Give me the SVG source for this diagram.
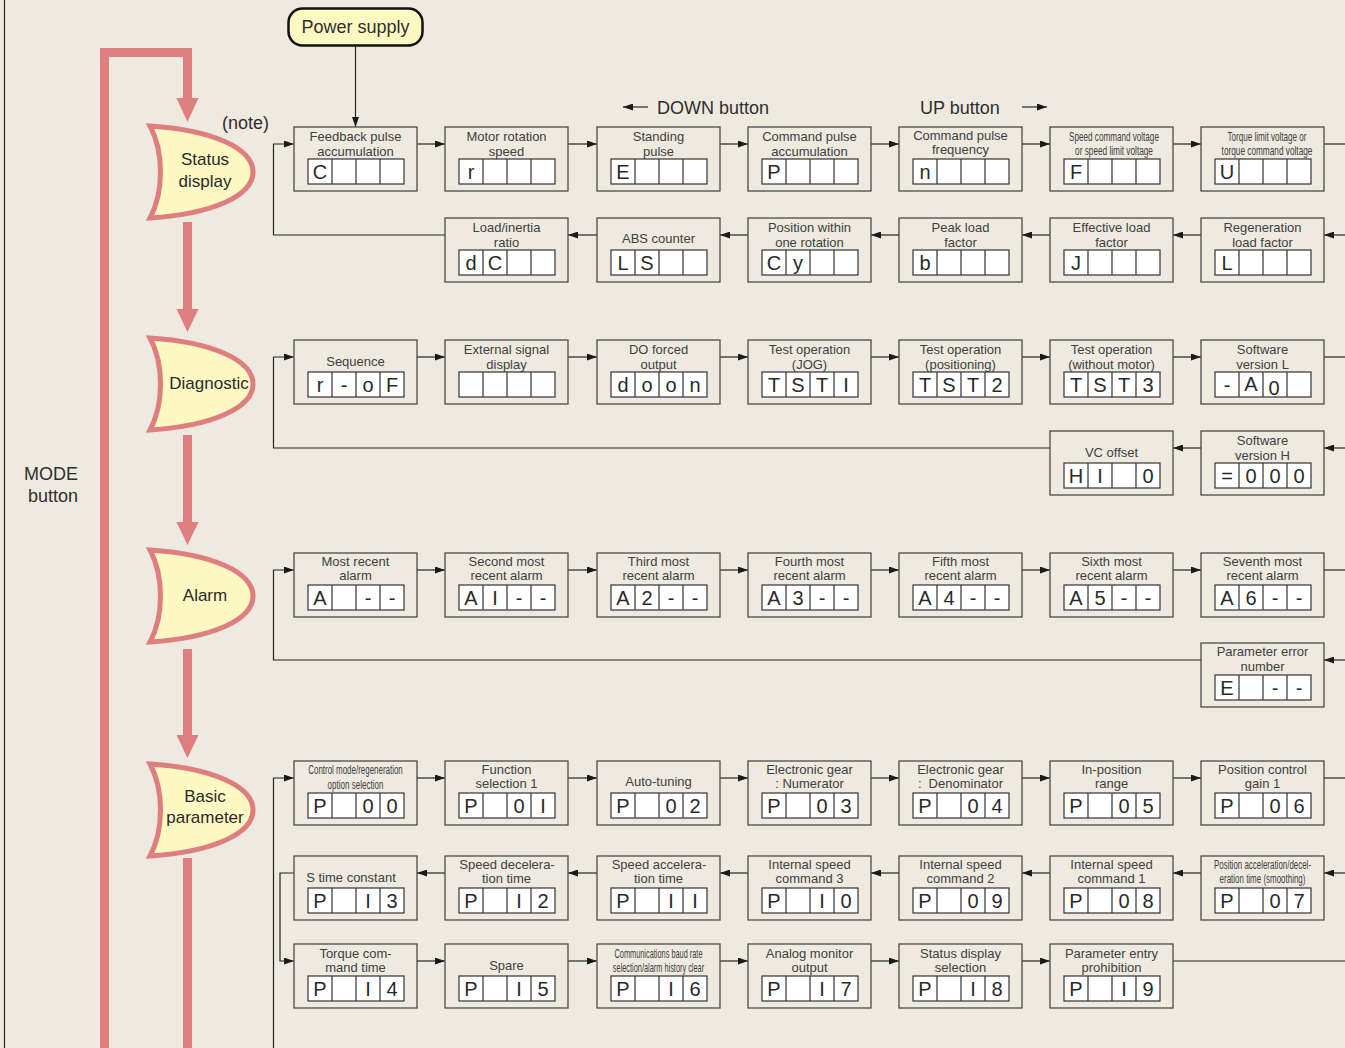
<svg xmlns="http://www.w3.org/2000/svg" xmlns:xlink="http://www.w3.org/1999/xlink" width="1345" height="1048" viewBox="0 0 1345 1048">
<style>
.box{fill:none;stroke:#4a4a4a;stroke-width:1.3}
.t{font-family:"Liberation Sans",Arial,sans-serif;font-size:13px;fill:#404040;text-anchor:middle}
.tn{font-family:"Liberation Sans",Arial,sans-serif;font-size:12.5px;fill:#404040;text-anchor:middle}
.c{font-family:"Liberation Sans",Arial,sans-serif;font-size:20px;fill:#2a2a2a;text-anchor:middle}
.m{font-family:"Liberation Sans",Arial,sans-serif;font-size:17px;fill:#2a2a2a;text-anchor:middle}
.lbl{font-family:"Liberation Sans",Arial,sans-serif;font-size:18px;fill:#2e2e2e}
.conn{fill:none;stroke:#222;stroke-width:1.2}
.pink{fill:none;stroke:#DF7E7F;stroke-width:9}
.ph{fill:#DF7E7F}
.moon{fill:#FEF8C3;stroke:#DF7E7F;stroke-width:5;stroke-miterlimit:12}
</style>
<defs>
<marker id="ah" viewBox="0 0 10 7" refX="10" refY="3.5" markerWidth="10" markerHeight="7" markerUnits="userSpaceOnUse" orient="auto"><path d="M0,0 L10,3.5 L0,7 z" fill="#1a1a1a"/></marker>
<g id="cells"><rect x="0" y="0" width="96" height="25" fill="#fff" stroke="#333" stroke-width="1.2"/><path d="M24,0v25M48,0v25M72,0v25" stroke="#333" stroke-width="1.2"/></g>
<path id="moon" d="M0,0 C62,4 103,22 103,46 C103,70 62,88 0,92 C14,66 14,26 0,0 Z"/>
</defs>
<rect width="1345" height="1048" fill="#EEEAE0"/>
<line x1="4.5" y1="0" x2="4.5" y2="1048" stroke="#222" stroke-width="1.2"/>

<g id="connectors">
<path class="pink" d="M187.5,99 V52.5 H104.5 V1048"/>
<polygon class="ph" points="176.5,98 198.5,98 187.5,122"/>
<line class="pink" x1="187.5" y1="222" x2="187.5" y2="310"/>
<polygon class="ph" points="176.5,309 198.5,309 187.5,332"/>
<line class="pink" x1="187.5" y1="435" x2="187.5" y2="523"/>
<polygon class="ph" points="176.5,522 198.5,522 187.5,545"/>
<line class="pink" x1="187.5" y1="649" x2="187.5" y2="736"/>
<polygon class="ph" points="176.5,735 198.5,735 187.5,758"/>
<line class="pink" x1="187.5" y1="858" x2="187.5" y2="1048"/>
<line class="conn" x1="355.5" y1="47" x2="355.5" y2="127" marker-end="url(#ah)"/>
<line class="conn" x1="648" y1="107" x2="623" y2="107" stroke-width="1.5" marker-end="url(#ah)"/>
<line class="conn" x1="1022" y1="107" x2="1047" y2="107" stroke-width="1.5" marker-end="url(#ah)"/>
<line class="conn" x1="417" y1="144" x2="445" y2="144" marker-end="url(#ah)"/>
<line class="conn" x1="568" y1="144" x2="597" y2="144" marker-end="url(#ah)"/>
<line class="conn" x1="720" y1="144" x2="748" y2="144" marker-end="url(#ah)"/>
<line class="conn" x1="871" y1="144" x2="899" y2="144" marker-end="url(#ah)"/>
<line class="conn" x1="1022" y1="144" x2="1050" y2="144" marker-end="url(#ah)"/>
<line class="conn" x1="1173" y1="144" x2="1201" y2="144" marker-end="url(#ah)"/>
<line class="conn" x1="1324" y1="144" x2="1345" y2="144"/>
<path class="conn" d="M445,235 H273.5 V144 H294" marker-end="url(#ah)"/>
<line class="conn" x1="1345" y1="235" x2="1324" y2="235" marker-end="url(#ah)"/>
<line class="conn" x1="1201" y1="235" x2="1173" y2="235" marker-end="url(#ah)"/>
<line class="conn" x1="1050" y1="235" x2="1022" y2="235" marker-end="url(#ah)"/>
<line class="conn" x1="899" y1="235" x2="871" y2="235" marker-end="url(#ah)"/>
<line class="conn" x1="748" y1="235" x2="720" y2="235" marker-end="url(#ah)"/>
<line class="conn" x1="597" y1="235" x2="568" y2="235" marker-end="url(#ah)"/>
<line class="conn" x1="417" y1="357" x2="445" y2="357" marker-end="url(#ah)"/>
<line class="conn" x1="568" y1="357" x2="597" y2="357" marker-end="url(#ah)"/>
<line class="conn" x1="720" y1="357" x2="748" y2="357" marker-end="url(#ah)"/>
<line class="conn" x1="871" y1="357" x2="899" y2="357" marker-end="url(#ah)"/>
<line class="conn" x1="1022" y1="357" x2="1050" y2="357" marker-end="url(#ah)"/>
<line class="conn" x1="1173" y1="357" x2="1201" y2="357" marker-end="url(#ah)"/>
<line class="conn" x1="1324" y1="357" x2="1345" y2="357"/>
<line class="conn" x1="1345" y1="448" x2="1324" y2="448" marker-end="url(#ah)"/>
<line class="conn" x1="1201" y1="448" x2="1173" y2="448" marker-end="url(#ah)"/>
<path class="conn" d="M1050,448 H273.5 V357 H294" marker-end="url(#ah)"/>
<line class="conn" x1="417" y1="570" x2="445" y2="570" marker-end="url(#ah)"/>
<line class="conn" x1="568" y1="570" x2="597" y2="570" marker-end="url(#ah)"/>
<line class="conn" x1="720" y1="570" x2="748" y2="570" marker-end="url(#ah)"/>
<line class="conn" x1="871" y1="570" x2="899" y2="570" marker-end="url(#ah)"/>
<line class="conn" x1="1022" y1="570" x2="1050" y2="570" marker-end="url(#ah)"/>
<line class="conn" x1="1173" y1="570" x2="1201" y2="570" marker-end="url(#ah)"/>
<line class="conn" x1="1324" y1="570" x2="1345" y2="570"/>
<line class="conn" x1="1345" y1="660" x2="1324" y2="660" marker-end="url(#ah)"/>
<path class="conn" d="M1201,660 H273.5 V570 H294" marker-end="url(#ah)"/>
<path class="conn" d="M273.5,1048 V778 H294" marker-end="url(#ah)"/>
<line class="conn" x1="417" y1="778" x2="445" y2="778" marker-end="url(#ah)"/>
<line class="conn" x1="568" y1="778" x2="597" y2="778" marker-end="url(#ah)"/>
<line class="conn" x1="720" y1="778" x2="748" y2="778" marker-end="url(#ah)"/>
<line class="conn" x1="871" y1="778" x2="899" y2="778" marker-end="url(#ah)"/>
<line class="conn" x1="1022" y1="778" x2="1050" y2="778" marker-end="url(#ah)"/>
<line class="conn" x1="1173" y1="778" x2="1201" y2="778" marker-end="url(#ah)"/>
<line class="conn" x1="1324" y1="778" x2="1345" y2="778"/>
<line class="conn" x1="1345" y1="873" x2="1324" y2="873" marker-end="url(#ah)"/>
<line class="conn" x1="1201" y1="873" x2="1173" y2="873" marker-end="url(#ah)"/>
<line class="conn" x1="1050" y1="873" x2="1022" y2="873" marker-end="url(#ah)"/>
<line class="conn" x1="899" y1="873" x2="871" y2="873" marker-end="url(#ah)"/>
<line class="conn" x1="748" y1="873" x2="720" y2="873" marker-end="url(#ah)"/>
<line class="conn" x1="597" y1="873" x2="568" y2="873" marker-end="url(#ah)"/>
<line class="conn" x1="445" y1="873" x2="417" y2="873" marker-end="url(#ah)"/>
<path class="conn" d="M294,873 H280 V961 H294" marker-end="url(#ah)"/>
<line class="conn" x1="417" y1="961" x2="445" y2="961" marker-end="url(#ah)"/>
<line class="conn" x1="568" y1="961" x2="597" y2="961" marker-end="url(#ah)"/>
<line class="conn" x1="720" y1="961" x2="748" y2="961" marker-end="url(#ah)"/>
<line class="conn" x1="871" y1="961" x2="899" y2="961" marker-end="url(#ah)"/>
<line class="conn" x1="1022" y1="961" x2="1050" y2="961" marker-end="url(#ah)"/>
<line class="conn" x1="1173" y1="961" x2="1345" y2="961"/>
</g>

<text class="lbl" x="657" y="114">DOWN button</text>
<text class="lbl" x="920" y="114">UP button</text>
<text class="lbl" x="51" y="480" text-anchor="middle">MODE</text>
<text class="lbl" x="53" y="502" text-anchor="middle">button</text>
<text class="lbl" x="222" y="129" font-size="17">(note)</text>

<g id="power-supply">
<rect x="288.5" y="8.5" width="134" height="37" rx="14" fill="#FEF8C3" stroke="#111" stroke-width="2.5"/>
<text class="lbl" x="355.5" y="33" text-anchor="middle" font-size="18.5">Power supply</text>
</g>

<g id="status-display"><use href="#moon" class="moon" x="150" y="126"/><text class="m" x="205" y="165">Status</text><text class="m" x="205" y="187">display</text></g>
<g id="diagnostic"><use href="#moon" class="moon" x="150" y="338"/><text class="m" x="209" y="389" font-size="16">Diagnostic</text></g>
<g id="alarm"><use href="#moon" class="moon" x="150" y="550"/><text class="m" x="205" y="601">Alarm</text></g>
<g id="basic-parameter"><use href="#moon" class="moon" x="150" y="764"/><text class="m" x="205" y="802" font-size="14.5">Basic</text><text class="m" x="205" y="823" font-size="14.5">parameter</text></g>

<g id="s-feedback" transform="translate(294,127)"><rect class="box" width="123" height="64"/><text class="t" x="61.5" y="14">Feedback pulse</text><text class="t" x="61.5" y="28.5">accumulation</text><use href="#cells" x="14" y="32"/><text class="c" x="26" y="52">C</text></g>
<g id="s-motor" transform="translate(445,127)"><rect class="box" width="123" height="64"/><text class="t" x="61.5" y="14">Motor rotation</text><text class="t" x="61.5" y="28.5">speed</text><use href="#cells" x="14" y="32"/><text class="c" x="26" y="52">r</text></g>
<g id="s-standing" transform="translate(597,127)"><rect class="box" width="123" height="64"/><text class="t" x="61.5" y="14">Standing</text><text class="t" x="61.5" y="28.5">pulse</text><use href="#cells" x="14" y="32"/><text class="c" x="26" y="52">E</text></g>
<g id="s-cmdacc" transform="translate(748,127)"><rect class="box" width="123" height="64"/><text class="t" x="61.5" y="14">Command pulse</text><text class="t" x="61.5" y="28.5">accumulation</text><use href="#cells" x="14" y="32"/><text class="c" x="26" y="52">P</text></g>
<g id="s-cmdfreq" transform="translate(899,127)"><rect class="box" width="123" height="64"/><text class="t" x="61.5" y="12.5">Command pulse</text><text class="t" x="61.5" y="27">frequency</text><use href="#cells" x="14" y="32"/><text class="c" x="26" y="52">n</text></g>
<g id="s-speedv" transform="translate(1050,127)"><rect class="box" width="123" height="64"/><g transform="translate(64,13.5) scale(0.65,1)"><text class="tn" x="0" y="0">Speed command voltage</text></g><g transform="translate(64,28) scale(0.66,1)"><text class="tn" x="0" y="0">or speed limit voltage</text></g><use href="#cells" x="14" y="32"/><text class="c" x="26" y="52">F</text></g>
<g id="s-torquev" transform="translate(1201,127)"><rect class="box" width="123" height="64"/><g transform="translate(66,13.5) scale(0.647,1)"><text class="tn" x="0" y="0">Torque limit voltage or</text></g><g transform="translate(66,28) scale(0.661,1)"><text class="tn" x="0" y="0">torque command voltage</text></g><use href="#cells" x="14" y="32"/><text class="c" x="26" y="52">U</text></g>

<g id="s-loadinertia" transform="translate(445,218)"><rect class="box" width="123" height="64"/><text class="t" x="61.5" y="14">Load/inertia</text><text class="t" x="61.5" y="28.5">ratio</text><use href="#cells" x="14" y="32"/><text class="c" x="26" y="52">d</text><text class="c" x="50" y="52">C</text></g>
<g id="s-abs" transform="translate(597,218)"><rect class="box" width="123" height="64"/><text class="t" x="61.5" y="25">ABS counter</text><use href="#cells" x="14" y="32"/><text class="c" x="26" y="52">L</text><text class="c" x="50" y="52">S</text></g>
<g id="s-position" transform="translate(748,218)"><rect class="box" width="123" height="64"/><text class="t" x="61.5" y="14">Position within</text><text class="t" x="61.5" y="28.5">one rotation</text><use href="#cells" x="14" y="32"/><text class="c" x="26" y="52">C</text><text class="c" x="50" y="52">y</text></g>
<g id="s-peak" transform="translate(899,218)"><rect class="box" width="123" height="64"/><text class="t" x="61.5" y="14">Peak load</text><text class="t" x="61.5" y="28.5">factor</text><use href="#cells" x="14" y="32"/><text class="c" x="26" y="52">b</text></g>
<g id="s-effective" transform="translate(1050,218)"><rect class="box" width="123" height="64"/><text class="t" x="61.5" y="14">Effective load</text><text class="t" x="61.5" y="28.5">factor</text><use href="#cells" x="14" y="32"/><text class="c" x="26" y="52">J</text></g>
<g id="s-regen" transform="translate(1201,218)"><rect class="box" width="123" height="64"/><text class="t" x="61.5" y="14">Regeneration</text><text class="t" x="61.5" y="28.5">load factor</text><use href="#cells" x="14" y="32"/><text class="c" x="26" y="52">L</text></g>

<g id="d-sequence" transform="translate(294,340)"><rect class="box" width="123" height="64"/><text class="t" x="61.5" y="26">Sequence</text><use href="#cells" x="14" y="32"/><text class="c" x="26" y="52">r</text><text class="c" x="50" y="52">-</text><text class="c" x="74" y="52">o</text><text class="c" x="98" y="52">F</text></g>
<g id="d-external" transform="translate(445,340)"><rect class="box" width="123" height="64"/><text class="t" x="61.5" y="14">External signal</text><text class="t" x="61.5" y="28.5">display</text><use href="#cells" x="14" y="32"/></g>
<g id="d-doforced" transform="translate(597,340)"><rect class="box" width="123" height="64"/><text class="t" x="61.5" y="14">DO forced</text><text class="t" x="61.5" y="28.5">output</text><use href="#cells" x="14" y="32"/><text class="c" x="26" y="52">d</text><text class="c" x="50" y="52">o</text><text class="c" x="74" y="52">o</text><text class="c" x="98" y="52">n</text></g>
<g id="d-jog" transform="translate(748,340)"><rect class="box" width="123" height="64"/><text class="t" x="61.5" y="14">Test operation</text><text class="t" x="61.5" y="28.5">(JOG)</text><use href="#cells" x="14" y="32"/><text class="c" x="26" y="52">T</text><text class="c" x="50" y="52">S</text><text class="c" x="74" y="52">T</text><text class="c" x="98" y="52">I</text></g>
<g id="d-positioning" transform="translate(899,340)"><rect class="box" width="123" height="64"/><text class="t" x="61.5" y="14">Test operation</text><text class="t" x="61.5" y="28.5">(positioning)</text><use href="#cells" x="14" y="32"/><text class="c" x="26" y="52">T</text><text class="c" x="50" y="52">S</text><text class="c" x="74" y="52">T</text><text class="c" x="98" y="52">2</text></g>
<g id="d-nomotor" transform="translate(1050,340)"><rect class="box" width="123" height="64"/><text class="t" x="61.5" y="14">Test operation</text><text class="t" x="61.5" y="28.5">(without motor)</text><use href="#cells" x="14" y="32"/><text class="c" x="26" y="52">T</text><text class="c" x="50" y="52">S</text><text class="c" x="74" y="52">T</text><text class="c" x="98" y="52">3</text></g>
<g id="d-swl" transform="translate(1201,340)"><rect class="box" width="123" height="64"/><text class="t" x="61.5" y="14">Software</text><text class="t" x="61.5" y="28.5">version L</text><use href="#cells" x="14" y="32"/><text class="c" x="26" y="52">-</text><text class="c" x="50" y="51">A</text><text class="c" x="73" y="55" font-size="15">0</text></g>
<g id="d-swh" transform="translate(1201,431)"><rect class="box" width="123" height="64"/><text class="t" x="61.5" y="14">Software</text><text class="t" x="61.5" y="28.5">version H</text><use href="#cells" x="14" y="32"/><text class="c" x="26" y="52">=</text><text class="c" x="50" y="52">0</text><text class="c" x="74" y="52">0</text><text class="c" x="98" y="52">0</text></g>
<g id="d-vcoffset" transform="translate(1050,431)"><rect class="box" width="123" height="64"/><text class="t" x="61.5" y="26">VC offset</text><use href="#cells" x="14" y="32"/><text class="c" x="26" y="52">H</text><text class="c" x="50" y="52">I</text><text class="c" x="98" y="52">0</text></g>

<g id="a-0" transform="translate(294,553)"><rect class="box" width="123" height="64"/><text class="t" x="61.5" y="12.5">Most recent</text><text class="t" x="61.5" y="27">alarm</text><use href="#cells" x="14" y="32"/><text class="c" x="26" y="52">A</text><text class="c" x="74" y="52">-</text><text class="c" x="98" y="52">-</text></g>
<g id="a-1" transform="translate(445,553)"><rect class="box" width="123" height="64"/><text class="t" x="61.5" y="12.5">Second most</text><text class="t" x="61.5" y="27">recent alarm</text><use href="#cells" x="14" y="32"/><text class="c" x="26" y="52">A</text><text class="c" x="50" y="52">I</text><text class="c" x="74" y="52">-</text><text class="c" x="98" y="52">-</text></g>
<g id="a-2" transform="translate(597,553)"><rect class="box" width="123" height="64"/><text class="t" x="61.5" y="12.5">Third most</text><text class="t" x="61.5" y="27">recent alarm</text><use href="#cells" x="14" y="32"/><text class="c" x="26" y="52">A</text><text class="c" x="50" y="52">2</text><text class="c" x="74" y="52">-</text><text class="c" x="98" y="52">-</text></g>
<g id="a-3" transform="translate(748,553)"><rect class="box" width="123" height="64"/><text class="t" x="61.5" y="12.5">Fourth most</text><text class="t" x="61.5" y="27">recent alarm</text><use href="#cells" x="14" y="32"/><text class="c" x="26" y="52">A</text><text class="c" x="50" y="52">3</text><text class="c" x="74" y="52">-</text><text class="c" x="98" y="52">-</text></g>
<g id="a-4" transform="translate(899,553)"><rect class="box" width="123" height="64"/><text class="t" x="61.5" y="12.5">Fifth most</text><text class="t" x="61.5" y="27">recent alarm</text><use href="#cells" x="14" y="32"/><text class="c" x="26" y="52">A</text><text class="c" x="50" y="52">4</text><text class="c" x="74" y="52">-</text><text class="c" x="98" y="52">-</text></g>
<g id="a-5" transform="translate(1050,553)"><rect class="box" width="123" height="64"/><text class="t" x="61.5" y="12.5">Sixth most</text><text class="t" x="61.5" y="27">recent alarm</text><use href="#cells" x="14" y="32"/><text class="c" x="26" y="52">A</text><text class="c" x="50" y="52">5</text><text class="c" x="74" y="52">-</text><text class="c" x="98" y="52">-</text></g>
<g id="a-6" transform="translate(1201,553)"><rect class="box" width="123" height="64"/><text class="t" x="61.5" y="12.5">Seventh most</text><text class="t" x="61.5" y="27">recent alarm</text><use href="#cells" x="14" y="32"/><text class="c" x="26" y="52">A</text><text class="c" x="50" y="52">6</text><text class="c" x="74" y="52">-</text><text class="c" x="98" y="52">-</text></g>
<g id="a-paramerr" transform="translate(1201,643)"><rect class="box" width="123" height="64"/><text class="t" x="61.5" y="13">Parameter error</text><text class="t" x="61.5" y="27.5">number</text><use href="#cells" x="14" y="32"/><text class="c" x="26" y="52">E</text><text class="c" x="74" y="52">-</text><text class="c" x="98" y="52">-</text></g>

<g id="p00" transform="translate(294,761)"><rect class="box" width="123" height="64"/><g transform="translate(61.5,13) scale(0.636,1)"><text class="tn" x="0" y="0">Control mode/regeneration</text></g><g transform="translate(61.5,27.5) scale(0.645,1)"><text class="tn" x="0" y="0">option selection</text></g><use href="#cells" x="14" y="32"/><text class="c" x="26" y="52">P</text><text class="c" x="74" y="52">0</text><text class="c" x="98" y="52">0</text></g>
<g id="p01" transform="translate(445,761)"><rect class="box" width="123" height="64"/><text class="t" x="61.5" y="12.5">Function</text><text class="t" x="61.5" y="27">selection 1</text><use href="#cells" x="14" y="32"/><text class="c" x="26" y="52">P</text><text class="c" x="74" y="52">0</text><text class="c" x="98" y="52">I</text></g>
<g id="p02" transform="translate(597,761)"><rect class="box" width="123" height="64"/><text class="t" x="61.5" y="25">Auto-tuning</text><use href="#cells" x="14" y="32"/><text class="c" x="26" y="52">P</text><text class="c" x="74" y="52">0</text><text class="c" x="98" y="52">2</text></g>
<g id="p03" transform="translate(748,761)"><rect class="box" width="123" height="64"/><text class="t" x="61.5" y="12.5">Electronic gear</text><text class="t" x="61.5" y="27">: Numerator</text><use href="#cells" x="14" y="32"/><text class="c" x="26" y="52">P</text><text class="c" x="74" y="52">0</text><text class="c" x="98" y="52">3</text></g>
<g id="p04" transform="translate(899,761)"><rect class="box" width="123" height="64"/><text class="t" x="61.5" y="12.5">Electronic gear</text><text class="t" x="61.5" y="27">:<tspan dx="7">Denominator</tspan></text><use href="#cells" x="14" y="32"/><text class="c" x="26" y="52">P</text><text class="c" x="74" y="52">0</text><text class="c" x="98" y="52">4</text></g>
<g id="p05" transform="translate(1050,761)"><rect class="box" width="123" height="64"/><text class="t" x="61.5" y="12.5">In-position</text><text class="t" x="61.5" y="27">range</text><use href="#cells" x="14" y="32"/><text class="c" x="26" y="52">P</text><text class="c" x="74" y="52">0</text><text class="c" x="98" y="52">5</text></g>
<g id="p06" transform="translate(1201,761)"><rect class="box" width="123" height="64"/><text class="t" x="61.5" y="12.5">Position control</text><text class="t" x="61.5" y="27">gain 1</text><use href="#cells" x="14" y="32"/><text class="c" x="26" y="52">P</text><text class="c" x="74" y="52">0</text><text class="c" x="98" y="52">6</text></g>

<g id="p13" transform="translate(294,856)"><rect class="box" width="123" height="64"/><text class="t" x="57" y="25.5">S time constant</text><use href="#cells" x="14" y="32"/><text class="c" x="26" y="52">P</text><text class="c" x="74" y="52">I</text><text class="c" x="98" y="52">3</text></g>
<g id="p12" transform="translate(445,856)"><rect class="box" width="123" height="64"/><text class="t" x="62" y="12.5">Speed decelera-</text><text class="t" x="61.5" y="27">tion time</text><use href="#cells" x="14" y="32"/><text class="c" x="26" y="52">P</text><text class="c" x="74" y="52">I</text><text class="c" x="98" y="52">2</text></g>
<g id="p11" transform="translate(597,856)"><rect class="box" width="123" height="64"/><text class="t" x="62" y="12.5">Speed accelera-</text><text class="t" x="61.5" y="27">tion time</text><use href="#cells" x="14" y="32"/><text class="c" x="26" y="52">P</text><text class="c" x="74" y="52">I</text><text class="c" x="98" y="52">I</text></g>
<g id="p10" transform="translate(748,856)"><rect class="box" width="123" height="64"/><text class="t" x="61.5" y="12.5">Internal speed</text><text class="t" x="61.5" y="27">command 3</text><use href="#cells" x="14" y="32"/><text class="c" x="26" y="52">P</text><text class="c" x="74" y="52">I</text><text class="c" x="98" y="52">0</text></g>
<g id="p09" transform="translate(899,856)"><rect class="box" width="123" height="64"/><text class="t" x="61.5" y="12.5">Internal speed</text><text class="t" x="61.5" y="27">command 2</text><use href="#cells" x="14" y="32"/><text class="c" x="26" y="52">P</text><text class="c" x="74" y="52">0</text><text class="c" x="98" y="52">9</text></g>
<g id="p08" transform="translate(1050,856)"><rect class="box" width="123" height="64"/><text class="t" x="61.5" y="12.5">Internal speed</text><text class="t" x="61.5" y="27">command 1</text><use href="#cells" x="14" y="32"/><text class="c" x="26" y="52">P</text><text class="c" x="74" y="52">0</text><text class="c" x="98" y="52">8</text></g>
<g id="p07" transform="translate(1201,856)"><rect class="box" width="123" height="64"/><g transform="translate(61.5,12.5) scale(0.635,1)"><text class="tn" x="0" y="0">Position acceleration/decel-</text></g><g transform="translate(61.5,27) scale(0.638,1)"><text class="tn" x="0" y="0">eration time (smoothing)</text></g><use href="#cells" x="14" y="32"/><text class="c" x="26" y="52">P</text><text class="c" x="74" y="52">0</text><text class="c" x="98" y="52">7</text></g>

<g id="p14" transform="translate(294,944)"><rect class="box" width="123" height="64"/><text class="t" x="61.5" y="13.5">Torque com-</text><text class="t" x="61.5" y="28">mand time</text><use href="#cells" x="14" y="32"/><text class="c" x="26" y="52">P</text><text class="c" x="74" y="52">I</text><text class="c" x="98" y="52">4</text></g>
<g id="p15" transform="translate(445,944)"><rect class="box" width="123" height="64"/><text class="t" x="61.5" y="26">Spare</text><use href="#cells" x="14" y="32"/><text class="c" x="26" y="52">P</text><text class="c" x="74" y="52">I</text><text class="c" x="98" y="52">5</text></g>
<g id="p16" transform="translate(597,944)"><rect class="box" width="123" height="64"/><g transform="translate(61.5,13.5) scale(0.59,1)"><text class="tn" x="0" y="0" font-size="11.5">Communications baud rate</text></g><g transform="translate(61.5,28) scale(0.59,1)"><text class="tn" x="0" y="0" font-size="11.5">selection/alarm history clear</text></g><use href="#cells" x="14" y="32"/><text class="c" x="26" y="52">P</text><text class="c" x="74" y="52">I</text><text class="c" x="98" y="52">6</text></g>
<g id="p17" transform="translate(748,944)"><rect class="box" width="123" height="64"/><text class="t" x="61.5" y="13.5">Analog monitor</text><text class="t" x="61.5" y="28">output</text><use href="#cells" x="14" y="32"/><text class="c" x="26" y="52">P</text><text class="c" x="74" y="52">I</text><text class="c" x="98" y="52">7</text></g>
<g id="p18" transform="translate(899,944)"><rect class="box" width="123" height="64"/><text class="t" x="61.5" y="13.5">Status display</text><text class="t" x="61.5" y="28">selection</text><use href="#cells" x="14" y="32"/><text class="c" x="26" y="52">P</text><text class="c" x="74" y="52">I</text><text class="c" x="98" y="52">8</text></g>
<g id="p19" transform="translate(1050,944)"><rect class="box" width="123" height="64"/><text class="t" x="61.5" y="13.5">Parameter entry</text><text class="t" x="61.5" y="28">prohibition</text><use href="#cells" x="14" y="32"/><text class="c" x="26" y="52">P</text><text class="c" x="74" y="52">I</text><text class="c" x="98" y="52">9</text></g>
</svg>
